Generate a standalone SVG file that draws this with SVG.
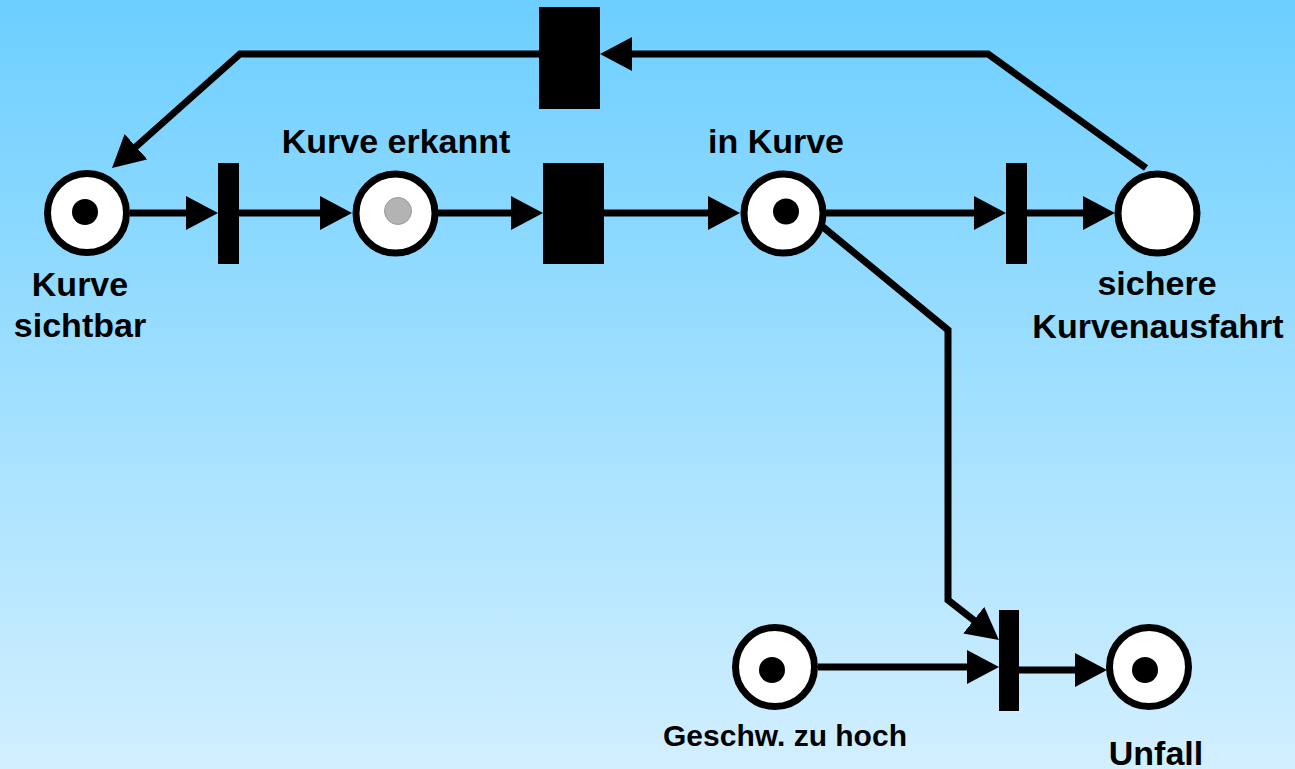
<svg xmlns="http://www.w3.org/2000/svg" width="1295" height="769" viewBox="0 0 1295 769">
  <defs>
    <linearGradient id="sky" x1="0" y1="0" x2="0" y2="1">
      <stop offset="0" stop-color="#6dcfff"/>
      <stop offset="1" stop-color="#d2efff"/>
    </linearGradient>
    <marker id="arrow" viewBox="0 0 32 34" refX="20" refY="17" markerWidth="32" markerHeight="34" markerUnits="userSpaceOnUse" orient="auto">
      <path d="M0,0 L32,17 L0,34 Z" fill="#000"/>
    </marker>
  </defs>
  <style>
    .arc { fill: none; stroke: #000; stroke-width: 7; stroke-linejoin: miter; marker-end: url(#arrow); }
    .place { fill: #fff; stroke: #000; stroke-width: 7; }
    .token { fill: #000; }
    .token-grey { fill: #b3b3b3; stroke: #9a9a9a; stroke-width: 1; }
    .trans { fill: #000; }
    .label { font-family: "Liberation Sans", Arial, sans-serif; font-weight: bold; font-size: 34px; fill: #000; text-anchor: middle; }
    .small { font-size: 30px; }
  </style>

  <rect x="0" y="0" width="1295" height="769" fill="url(#sky)"/>

  <!-- connectors -->
  <g id="connectors">
    <path class="arc" d="M130,213 L206,213"/>
    <path class="arc" d="M239,213 L340,213"/>
    <path class="arc" d="M438,213 L531,213"/>
    <path class="arc" d="M604,213 L728,213"/>
    <path class="arc" d="M826,213 L994,213"/>
    <path class="arc" d="M1027,213 L1103,213"/>
    <path class="arc" d="M1146,168 L988,54 L612,54"/>
    <path class="arc" d="M539,54 L240,54 L121,160"/>
    <path class="arc" d="M823,227 L948,330 L948,600 L989.5,632.6"/>
    <path class="arc" d="M818,667 L987,667"/>
    <path class="arc" d="M1019,670 L1095,670"/>
  </g>

  <!-- places -->
  <g id="kurve-sichtbar">
    <circle class="place" cx="87" cy="213" r="39.5"/>
    <circle class="token" cx="85" cy="212" r="13"/>
    <text class="label" x="80" y="296">Kurve</text>
    <text class="label" x="80" y="337">sichtbar</text>
  </g>
  <g id="kurve-erkannt">
    <circle class="place" cx="395.5" cy="213.5" r="39.5"/>
    <circle class="token-grey" cx="398" cy="211" r="13.5"/>
    <text class="label" x="396" y="153">Kurve erkannt</text>
  </g>
  <g id="in-kurve">
    <circle class="place" cx="783.5" cy="213.5" r="39.5"/>
    <circle class="token" cx="786" cy="211.5" r="13"/>
    <text class="label" x="776" y="153">in Kurve</text>
  </g>
  <g id="sichere-kurvenausfahrt">
    <circle class="place" cx="1157.5" cy="213.5" r="39.5"/>
    <text class="label" x="1157" y="295">sichere</text>
    <text class="label" x="1158" y="338">Kurvenausfahrt</text>
  </g>
  <g id="geschw-zu-hoch">
    <circle class="place" cx="775" cy="667" r="39.5"/>
    <circle class="token" cx="772" cy="670" r="13"/>
    <text class="label small" x="785" y="746">Geschw. zu hoch</text>
  </g>
  <g id="unfall">
    <circle class="place" cx="1149" cy="667" r="39.5"/>
    <circle class="token" cx="1145" cy="670" r="13"/>
    <text class="label" x="1156" y="765">Unfall</text>
  </g>

  <!-- transitions -->
  <g id="t-erkennen"><rect class="trans" x="218" y="163" width="21" height="101"/></g>
  <g id="t-einfahren"><rect class="trans" x="543" y="163" width="61" height="101"/></g>
  <g id="t-ausfahren"><rect class="trans" x="1006" y="163" width="21" height="101"/></g>
  <g id="t-neu"><rect class="trans" x="539" y="7" width="61" height="102"/></g>
  <g id="t-unfall"><rect class="trans" x="999" y="610" width="20" height="101"/></g>
</svg>
